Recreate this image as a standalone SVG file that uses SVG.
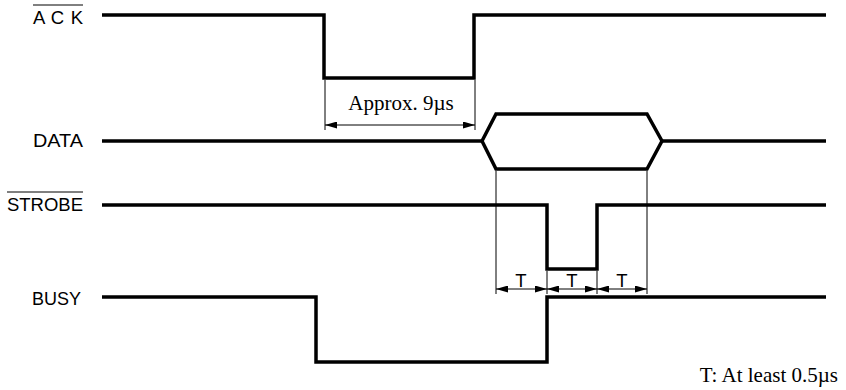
<svg xmlns="http://www.w3.org/2000/svg" width="846" height="390" viewBox="0 0 846 390">
<defs>
<style>
.sig{fill:none;stroke:#000;stroke-width:3.5;stroke-linejoin:miter;stroke-linecap:butt}
.thin{fill:none;stroke:#000;stroke-width:1}
.lbl{font-family:"Liberation Sans",Arial,sans-serif;font-size:18.5px;fill:#000}
.note{font-family:"Liberation Serif","Times New Roman",serif;font-size:21px;fill:#000}
</style>
<marker id="ah" viewBox="0 0 12 7" refX="12" refY="3.5" markerWidth="12" markerHeight="7" markerUnits="userSpaceOnUse" orient="auto-start-reverse">
<path d="M0,0 L12,3.5 L0,7 Z" fill="#000"/>
</marker>
</defs>
<rect width="846" height="390" fill="#fff"/>
<g id="ack">
<text class="lbl" x="83" y="24" text-anchor="end" textLength="50" lengthAdjust="spacing">A C K</text>
<line class="thin" x1="33" y1="5" x2="83" y2="5"/>
<path class="sig" d="M102,15 H324 V78 H474 V15 H826"/>
</g>
<g id="data">
<text class="lbl" x="83" y="147" text-anchor="end" textLength="50" lengthAdjust="spacingAndGlyphs">DATA</text>
<path class="sig" d="M102,141 H482 M662,141 H826"/>
<path class="sig" d="M482,141 L496,114 H647 L662,141 L647,169 H496 Z"/>
</g>
<g id="strobe">
<text class="lbl" x="83" y="211" text-anchor="end" textLength="76" lengthAdjust="spacingAndGlyphs">STROBE</text>
<line class="thin" x1="7" y1="192" x2="83" y2="192"/>
<path class="sig" d="M102,205 H547 V269 H597 V205 H826"/>
</g>
<g id="busy">
<text class="lbl" x="81" y="305" text-anchor="end" textLength="49" lengthAdjust="spacingAndGlyphs">BUSY</text>
<path class="sig" d="M102,297 H316 V362 H547 V297 H826"/>
</g>
<g id="connectors">
<line class="thin" x1="325" y1="80" x2="325" y2="130"/>
<line class="thin" x1="475" y1="80" x2="475" y2="130"/>
<line class="thin" x1="325" y1="125" x2="475" y2="125" marker-start="url(#ah)" marker-end="url(#ah)"/>
<line class="thin" x1="496" y1="171" x2="496" y2="294"/>
<line class="thin" x1="647" y1="171" x2="647" y2="294"/>
<line class="thin" x1="547" y1="271" x2="547" y2="294"/>
<line class="thin" x1="597" y1="271" x2="597" y2="294"/>
<line class="thin" x1="496" y1="289" x2="547" y2="289" marker-start="url(#ah)" marker-end="url(#ah)"/>
<line class="thin" x1="547" y1="289" x2="597" y2="289" marker-start="url(#ah)" marker-end="url(#ah)"/>
<line class="thin" x1="597" y1="289" x2="647" y2="289" marker-start="url(#ah)" marker-end="url(#ah)"/>
</g>
<g id="labels">
<text class="note" x="401" y="110" text-anchor="middle">Approx. 9µs</text>
<text class="lbl" x="521" y="287" text-anchor="middle">T</text>
<text class="lbl" x="572" y="287" text-anchor="middle">T</text>
<text class="lbl" x="622" y="287" text-anchor="middle">T</text>
<text class="note" x="838" y="382" text-anchor="end">T: At least 0.5µs</text>
</g>
</svg>
